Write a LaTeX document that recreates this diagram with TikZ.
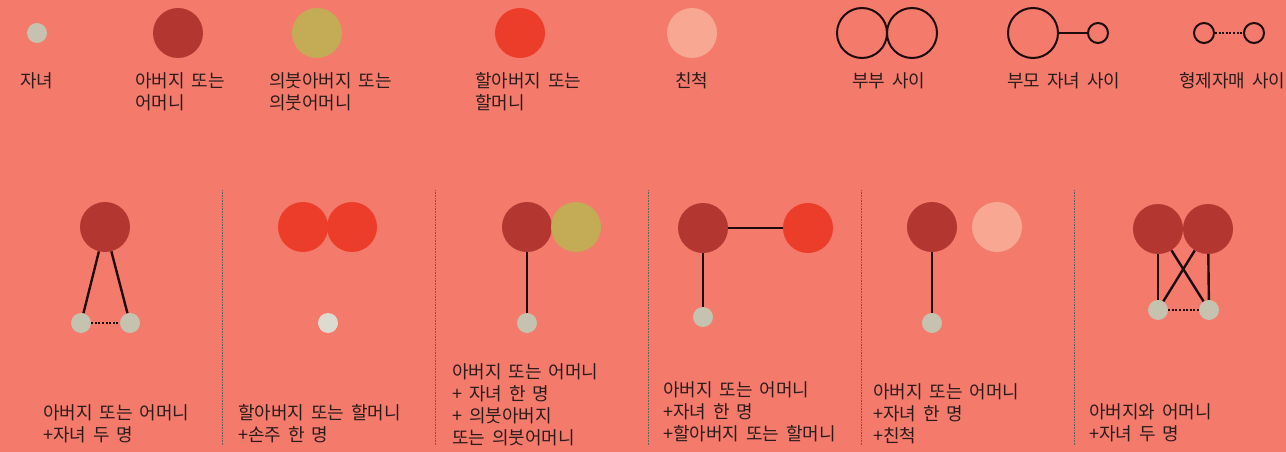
\documentclass[tikz,border=0pt]{standalone}
\usepackage{fontspec}
\setmainfont[WordSpace=1.7]{Noto Sans CJK KR}
\usetikzlibrary{positioning}

\definecolor{bgsalmon}{HTML}{F47A6C}
\definecolor{parentred}{HTML}{B33630}
\definecolor{stepgold}{HTML}{C4AB55}
\definecolor{grandred}{HTML}{EC3D2B}
\definecolor{relpink}{HTML}{F8A792}
\definecolor{kidgray}{HTML}{C5C3B0}
\definecolor{grandkid}{HTML}{DCDBD0}
\definecolor{inkdark}{HTML}{2B1C1C}
\definecolor{tiedark}{HTML}{1E0C0C}

\tikzset{
  bigdot/.style={circle, inner sep=0pt, minimum size=50pt},
  smalldot/.style={circle, inner sep=0pt, minimum size=20pt},
  parent/.style={bigdot, fill=parentred},
  stepparent/.style={bigdot, fill=stepgold},
  grandparent/.style={bigdot, fill=grandred},
  relative/.style={bigdot, fill=relpink},
  kid/.style={smalldot, fill=kidgray},
  tie/.style={draw=tiedark, line width=2.4pt},
  sibtie/.style={draw=tiedark, line width=2pt, dash pattern=on 2pt off 1.6pt},
  ring/.style={draw=tiedark, line width=2pt},
  caption/.style={anchor=north west, inner sep=0pt, align=left, text=inkdark,
    font=\fontsize{18}{22}\selectfont},
  divider/.style={draw=inkdark!70, line width=0.8pt, dash pattern=on 0.8pt off 0.8pt}
}

\begin{document}
\begin{tikzpicture}[x=1pt, y=-1pt]
  \fill[bgsalmon] (0,0) rectangle (1286,452);
  \useasboundingbox (0,0) rectangle (1286,452);

  % legend
  \node[kid] (lgKid) at (37,33) {};
  \node[parent] (lgParent) at (178,33) {};
  \node[stepparent] (lgStep) at (317,33) {};
  \node[grandparent] (lgGrand) at (520,33) {};
  \node[relative] (lgRel) at (692,33) {};
  \node[bigdot, ring] (lgCoupleA) at (862,33) {};
  \node[bigdot, ring] (lgCoupleB) at (912,33) {};
  \node[bigdot, ring] (lgPC) at (1033,33) {};
  \node[smalldot, ring] (lgPCkid) at (1098,33) {};
  \node[smalldot, ring] (lgSibA) at (1204,33) {};
  \node[smalldot, ring] (lgSibB) at (1254,33) {};
  \draw[ring] (lgPC) -- (lgPCkid);
  \draw[sibtie, line width=1.6pt] (lgSibA) -- (lgSibB);

  \node[caption] (capKid) at (20,72) {자녀};
  \node[caption] (capParent) at (135,72) {아버지 또는\\어머니};
  \node[caption] (capStep) at (269,72) {의붓아버지 또는\\의붓어머니};
  \node[caption] (capGrand) at (475,72) {할아버지 또는\\할머니};
  \node[caption] (capRel) at (675,72) {친척};
  \node[caption] (capCouple) at (852,72) {부부 사이};
  \node[caption] (capPC) at (1007,72) {부모 자녀 사이};
  \node[caption] (capSib) at (1179,72) {형제자매 사이};

  % panels
  \foreach \x in {222,435,648,861,1074}
    \draw[divider] (\x,190) -- (\x,445);

  % 1
  \node[parent] (pA) at (105,227) {};
  \node[kid] (kA1) at (81,323) {};
  \node[kid] (kA2) at (130,323) {};
  \draw[tie] (pA) -- (kA1);
  \draw[tie] (pA) -- (kA2);
  \draw[sibtie] (kA1) -- (kA2);
  \node[caption] (capA) at (43,404) {아버지 또는 어머니\\+자녀 두 명};

  % 2
  \node[grandparent] (gB1) at (303,227) {};
  \node[grandparent] (gB2) at (352,227) {};
  \node[smalldot, fill=grandkid] (kB) at (328,323) {};
  \node[caption] (capB) at (238,404) {할아버지 또는 할머니\\+손주 한 명};

  % 3
  \node[parent] (pC) at (527,227) {};
  \node[stepparent] (sC) at (576,227) {};
  \node[kid] (kC) at (527,323) {};
  \draw[tie] (pC) -- (kC);
  \node[caption] (capC) at (452,363) {아버지 또는 어머니\\+ 자녀 한 명\\+ 의붓아버지\\또는 의붓어머니};

  % 4
  \node[parent] (pD) at (703,228) {};
  \node[grandparent] (gD) at (808,228) {};
  \node[kid] (kD) at (703,317) {};
  \draw[tie] (pD) -- (gD);
  \draw[tie] (pD) -- (kD);
  \node[caption] (capD) at (663,381) {아버지 또는 어머니\\+자녀 한 명\\+할아버지 또는 할머니};

  % 5
  \node[parent] (pE) at (932,227) {};
  \node[relative] (rE) at (997,227) {};
  \node[kid] (kE) at (932,323) {};
  \draw[tie] (pE) -- (kE);
  \node[caption] (capE) at (873,383) {아버지 또는 어머니\\+자녀 한 명\\+친척};

  % 6
  \node[parent] (pF1) at (1158,229) {};
  \node[parent] (pF2) at (1208,229) {};
  \node[kid] (kF1) at (1158,310) {};
  \node[kid] (kF2) at (1209,310) {};
  \draw[tie] (pF1) -- (kF1);
  \draw[tie] (pF1) -- (kF2);
  \draw[tie] (pF2) -- (kF1);
  \draw[tie] (pF2) -- (kF2);
  \draw[sibtie] (kF1) -- (kF2);
  \node[caption] (capF) at (1089,403) {아버지와 어머니\\+자녀 두 명};
\end{tikzpicture}
\end{document}
